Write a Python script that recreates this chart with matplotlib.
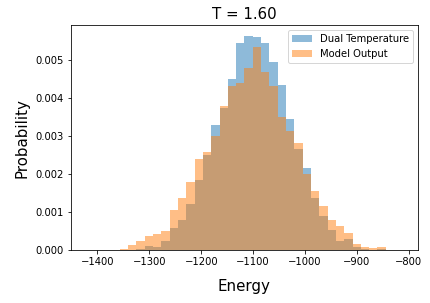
import numpy as np
import matplotlib
matplotlib.use("Agg")
import matplotlib.pyplot as plt

# shared bin range of both histograms
bin_lo = -1357.0
bin_hi = -828.5
n_bins = 33

# densities, one per bin (left to right)
dual_temp = [0.0, 0.0, 0.00003, 0.00012, 0.0001, 0.00025, 0.0006, 0.00079,
             0.00123, 0.00184, 0.00252, 0.0033, 0.00374, 0.0045, 0.00545,
             0.00563, 0.00562, 0.00544, 0.00496, 0.00436, 0.00346, 0.00267,
             0.00216, 0.00137, 0.0009, 0.00055, 0.00024, 0.00031, 0.0001,
             0.00004, 0.00001, 0.00003, 0.0]
model_out = [0.00004, 0.00014, 0.00025, 0.00039, 0.00044, 0.0005, 0.00107,
             0.00138, 0.0018, 0.0024, 0.0026, 0.003, 0.00379, 0.00432, 0.0044,
             0.0048, 0.00535, 0.0047, 0.00431, 0.00351, 0.00313, 0.00282,
             0.002, 0.00157, 0.00118, 0.0008, 0.00065, 0.00046, 0.00018,
             0.0001, 0.00006, 0.0001, 0.00002]

edges = np.linspace(bin_lo, bin_hi, n_bins + 1)
centers = (edges[:-1] + edges[1:]) / 2

fig = plt.figure(figsize=(430 / 72, 303 / 72), dpi=72)
ax = fig.add_axes([0.165, 0.1733, 0.8064, 0.7426])

ax.hist(centers, bins=edges, weights=dual_temp, alpha=0.5, label="Dual Temperature")
ax.hist(centers, bins=edges, weights=model_out, alpha=0.5, label="Model Output")

ax.set_xlim(-1451, -783)
ax.set_title("T = 1.60", fontsize=15)
ax.set_xlabel("Energy", fontsize=15, labelpad=12)
ax.set_ylabel("Probability", fontsize=15, labelpad=6)
ax.legend(loc="upper right")

fig.savefig("out.png", dpi=72)
